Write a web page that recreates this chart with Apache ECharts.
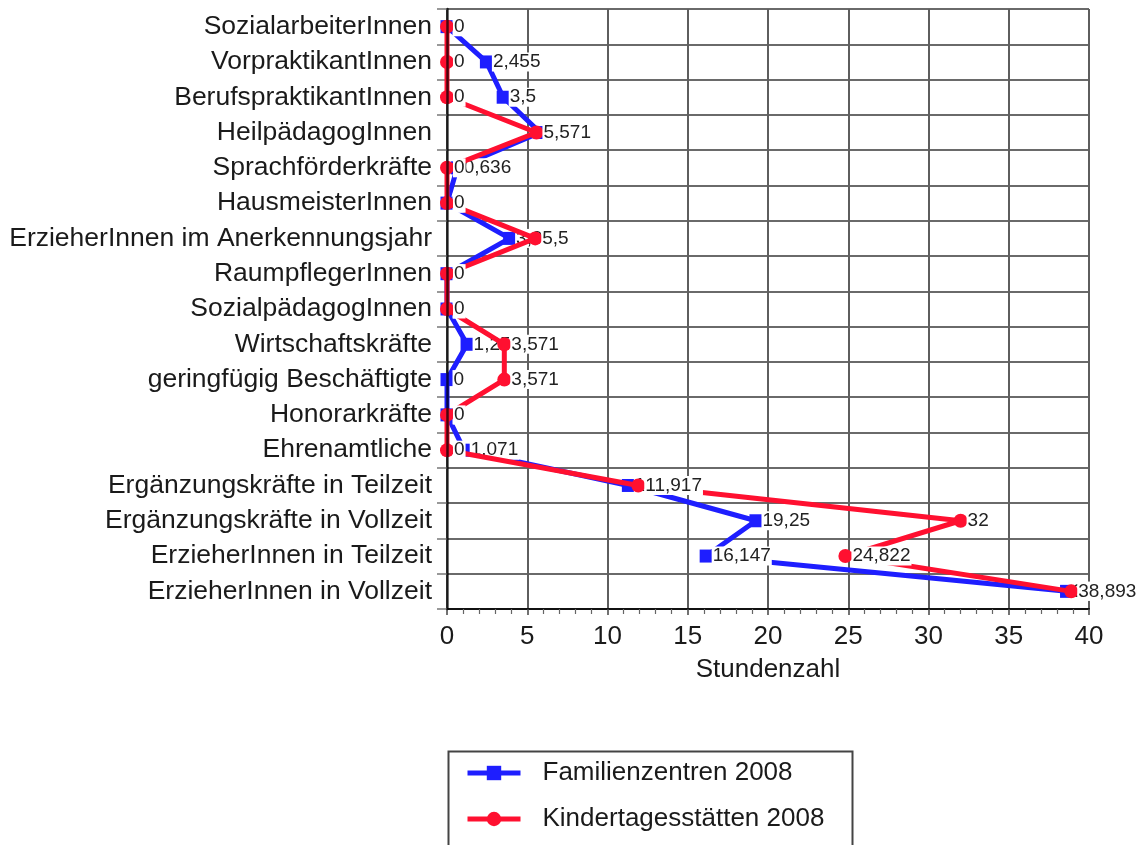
<!DOCTYPE html>
<html>
<head>
<meta charset="utf-8">
<script src="https://cdn.jsdelivr.net/npm/echarts@6/dist/echarts.min.js"></script>
<style>
  html, body { margin: 0; padding: 0; background: #fff; }
  #chart { width: 1143px; height: 845px; }
</style>
</head>
<body>
<div id="chart"></div>
<script>
// Staff categories (top to bottom)
const categories = [
  'SozialarbeiterInnen',
  'VorpraktikantInnen',
  'BerufspraktikantInnen',
  'HeilpädagogInnen',
  'Sprachförderkräfte',
  'HausmeisterInnen',
  'ErzieherInnen im Anerkennungsjahr',
  'RaumpflegerInnen',
  'SozialpädagogInnen',
  'Wirtschaftskräfte',
  'geringfügig Beschäftigte',
  'Honorarkräfte',
  'Ehrenamtliche',
  'Ergänzungskräfte in Teilzeit',
  'Ergänzungskräfte in Vollzeit',
  'ErzieherInnen in Teilzeit',
  'ErzieherInnen in Vollzeit'
];

// Weekly hours per category
const familienzentren2008 = [0, 2.455, 3.5, 5.8, 0.636, 0, 3.9, 0, 0, 1.25, 0, 0, 1.071, 11.3, 19.25, 16.147, 38.6];
const kindertagesstaetten2008 = [0, 0, 0, 5.571, 0, 0, 5.5, 0, 0, 3.571, 3.571, 0, 0, 11.917, 32, 24.822, 38.893];

const xTicks = { min: 0, max: 40, interval: 5 };
const seriesNames = ['Familienzentren 2008', 'Kindertagesstätten 2008'];

const FONT = "'Liberation Sans', Arial, Helvetica, sans-serif";
const BLUE = '#1e1eff';
const RED = '#ff1030';

const deComma = v => String(v).replace('.', ',');

const labelStyle = {
  show: true,
  position: 'right',
  distance: -1,
  fontFamily: FONT,
  fontSize: 19,
  color: '#222',
  backgroundColor: '#fff',
  padding: [0, 1],
  formatter: p => deComma(p.value)
};

// one legend entry per row, stacked inside a framed box
const legendEntry = (name, top) => ({
  orient: 'vertical',
  left: 465,
  top: top,
  padding: 0,
  itemWidth: 53,
  itemHeight: 18,
  lineStyle: { width: 5 },
  textStyle: { fontFamily: FONT, fontSize: 26, color: '#1a1a1a', padding: [0, 0, 0, 17] },
  data: [name]
});

const chart = echarts.init(document.getElementById('chart'), null, { renderer: 'canvas' });

chart.setOption({
  animation: false,
  backgroundColor: '#fff',
  textStyle: { fontFamily: FONT },
  grid: { left: 447, right: 54, top: 9, bottom: 236, containLabel: false },
  xAxis: {
    type: 'value',
    min: xTicks.min,
    max: xTicks.max,
    interval: xTicks.interval,
    name: 'Stundenzahl',
    nameLocation: 'middle',
    nameGap: 48,
    nameTextStyle: { fontFamily: FONT, fontSize: 26, color: '#1a1a1a' },
    axisLine: { show: true, lineStyle: { color: '#111', width: 2 } },
    axisTick: { show: true, length: 6, lineStyle: { color: '#444', width: 1.5 } },
    minorTick: { show: true, splitNumber: 5, length: 5, lineStyle: { color: '#666', width: 1.2 } },
    axisLabel: { fontFamily: FONT, fontSize: 26, color: '#1a1a1a', margin: 15 },
    splitLine: { show: true, lineStyle: { color: '#5e5e5e', width: 2 } }
  },
  yAxis: [
    {
      type: 'category',
      data: categories,
      inverse: true,
      boundaryGap: true,
      axisLine: { show: false },
      axisTick: { show: true, length: 10, lineStyle: { color: '#999', width: 2 } },
      axisLabel: { fontFamily: FONT, fontSize: 26.5, color: '#1a1a1a', margin: 15 },
      splitLine: { show: true, lineStyle: { color: '#6a6a6a', width: 2 } }
    },
    {
      // vertical zero line drawn above the series
      type: 'category',
      data: categories,
      inverse: true,
      position: 'left',
      z: 10,
      axisLine: { show: true, lineStyle: { color: 'rgba(0,0,0,0.72)', width: 2.5 } },
      axisTick: { show: false },
      axisLabel: { show: false },
      splitLine: { show: false }
    }
  ],
  legend: [
    legendEntry(seriesNames[0], 760),
    legendEntry(seriesNames[1], 806)
  ],
  graphic: [{
    type: 'rect',
    left: 446,
    top: 749,
    shape: { width: 404, height: 130 },
    style: { fill: 'none', stroke: '#444', lineWidth: 2 },
    z: -1
  }],
  series: [
    {
      name: seriesNames[0],
      type: 'line',
      z: 2,
      data: familienzentren2008,
      symbol: 'rect',
      symbolSize: 13,
      lineStyle: { color: BLUE, width: 5 },
      itemStyle: { color: BLUE },
      label: labelStyle
    },
    {
      name: seriesNames[1],
      type: 'line',
      z: 3,
      data: kindertagesstaetten2008,
      symbol: 'circle',
      symbolSize: 14,
      lineStyle: { color: RED, width: 5 },
      itemStyle: { color: RED },
      label: labelStyle
    }
  ]
});
</script>
</body>
</html>
